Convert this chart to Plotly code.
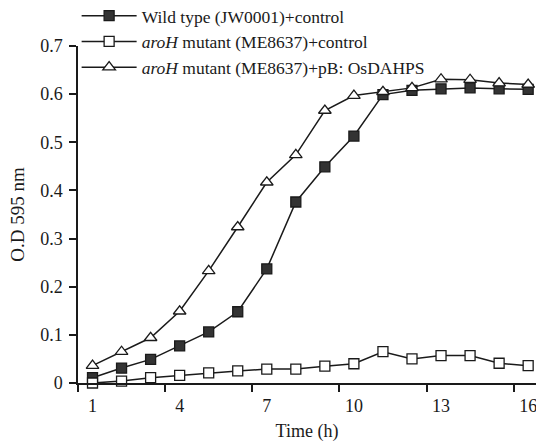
import plotly.graph_objects as go

# ── Data ─────────────────────────────────────────────────────────────────────
hours = list(range(1, 17))

wild_type = [0.011, 0.031, 0.049, 0.077, 0.106, 0.148, 0.237, 0.376,
             0.449, 0.513, 0.599, 0.608, 0.611, 0.613, 0.611, 0.610]
aroh_control = [0.0, 0.004, 0.011, 0.016, 0.021, 0.025, 0.029, 0.029,
                0.035, 0.040, 0.065, 0.050, 0.057, 0.057, 0.041, 0.036]
aroh_osdahps = [0.036, 0.065, 0.094, 0.149, 0.233, 0.324, 0.417, 0.474,
                0.566, 0.597, 0.605, 0.613, 0.631, 0.630, 0.623, 0.620]

x_labels = ["1", "4", "7", "10", "13", "16"]
x_label_vals = [1, 4, 7, 10, 13, 16]
x_tick_marks = [0.5, 3.5, 6.5, 9.5, 12.5, 15.5]

FONT = "Liberation Serif, Times New Roman, serif"
INK = "#1a1a1a"

series = [
    ("Wild type (JW0001)+control", wild_type,
     dict(symbol="square", color="#333333", size=10, line=dict(color=INK, width=1.3))),
    ("<i>aroH</i> mutant (ME8637)+control", aroh_control,
     dict(symbol="square", color="white", size=10, line=dict(color=INK, width=1.3))),
    ("<i>aroH</i> mutant (ME8637)+pB: OsDAHPS", aroh_osdahps,
     dict(symbol="triangle-up", color="white", size=11, line=dict(color=INK, width=1.3))),
]

fig = go.Figure()
for name, vals, marker in series:
    fig.add_trace(go.Scatter(
        x=hours, y=vals, name=name,
        mode="lines+markers",
        line=dict(color=INK, width=1.5),
        marker=marker,
        cliponaxis=False,
    ))

fig.update_layout(
    width=536, height=443,
    paper_bgcolor="white", plot_bgcolor="white",
    font=dict(family=FONT, size=18, color=INK),
    margin=dict(l=78, r=0, t=46, b=60, autoexpand=False),
    showlegend=True,
    legend=dict(
        x=-0.003, y=1.143, xanchor="left", yanchor="top",
        bgcolor="rgba(0,0,0,0)",
        font=dict(family=FONT, size=17.5, color=INK),
        tracegroupgap=0, itemwidth=55,
    ),
    xaxis=dict(
        range=[0.5, 16.27],
        showgrid=False, zeroline=False,
        showline=True, linecolor=INK, linewidth=1.5,
        tickvals=x_label_vals, ticktext=x_labels, ticks="",
        ticklabelstandoff=6, ticklabeloverflow="allow",
        minor=dict(tickvals=x_tick_marks, ticks="outside", ticklen=7,
                   tickcolor=INK, tickwidth=1.5, showgrid=False),
        title=dict(text="Time (h)", font=dict(size=18), standoff=9),
    ),
    yaxis=dict(
        range=[0, 0.7],
        showgrid=False, zeroline=False,
        showline=True, linecolor=INK, linewidth=1.5,
        tickvals=[0, 0.1, 0.2, 0.3, 0.4, 0.5, 0.6, 0.7],
        ticktext=["0", "0.1", "0.2", "0.3", "0.4", "0.5", "0.6", "0.7"],
        ticks="outside", ticklen=7, tickcolor=INK, tickwidth=1.5,
        ticklabelstandoff=3,
        title=dict(text="O.D 595 nm", font=dict(size=19), standoff=11),
    ),
)

# drop the default 8px body margin so the figure fills the window exactly
fig.write_html("out.html", config={"displayModeBar": False},
               post_script="document.body.style.margin='0';")
